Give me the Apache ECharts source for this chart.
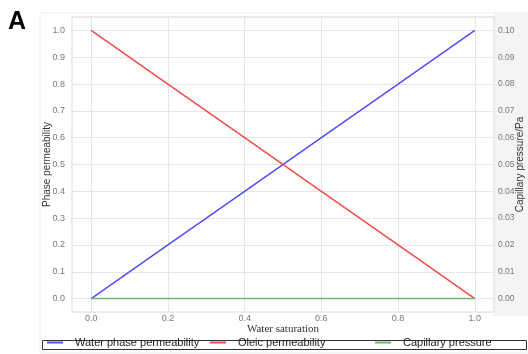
<!DOCTYPE html>
<html>
<head>
<meta charset="utf-8">
<script src="https://cdn.jsdelivr.net/npm/echarts@6/dist/echarts.min.js"></script>
<style>html,body{margin:0;padding:0;background:#fff}#c{width:528px;height:354px}</style>
</head>
<body>
<div id="c"></div>
<script>
const waterSaturation = [0.0, 0.2, 0.4, 0.6, 0.8, 1.0];
const waterPerm = [0.0, 0.2, 0.4, 0.6, 0.8, 1.0];
const oleicPerm = [1.0, 0.8, 0.6, 0.4, 0.2, 0.0];
const capPressure = [0, 0, 0, 0, 0, 0];
const seriesNames = ['Water phase permeability', 'Oleic permeability', 'Capillary pressure'];
const xTicks = [0, 0.2, 0.4, 0.6, 0.8, 1.0];
const leftTicks = [0, 0.1, 0.2, 0.3, 0.4, 0.5, 0.6, 0.7, 0.8, 0.9, 1.0];
const rightTicks = [0, 0.01, 0.02, 0.03, 0.04, 0.05, 0.06, 0.07, 0.08, 0.09, 0.10];

const chart = echarts.init(document.getElementById('c'), null, {renderer: 'canvas'});
const pair = (xs, ys) => xs.map((x, i) => [x, ys[i]]);
const labelColor = '#777';
const splitStyle = {lineStyle: {color: '#e6e6e6', width: 1}};
const legendLefts = [47, 210, 375];
const mkLegend = (name, i) => ({
  left: legendLefts[i], top: 337, itemWidth: 16, itemHeight: 2, icon: 'rect', padding: 0,
  textStyle: {fontSize: 11, color: '#222', fontFamily: '"Liberation Sans", Arial', padding: [0, 0, 0, 7]},
  data: [name]
});
chart.setOption({
  animation: false,
  backgroundColor: '#fff',
  graphic: [
    {type: 'rect', z: -10, shape: {x: 40, y: 13, width: 490, height: 340}, style: {fill: '#fff', stroke: '#ebebeb', lineWidth: 1}},
    {type: 'rect', z: -9, shape: {x: 494, y: 13, width: 36, height: 303}, style: {fill: '#f4f4f4'}},
    {type: 'rect', z: -8, shape: {x: 72, y: 17, width: 422, height: 295}, style: {fill: '#fff'}},
    {type: 'text', left: 8, top: 10, style: {text: 'A', font: 'bold 25px "Liberation Sans", Arial', fill: '#000'}},
    {type: 'rect', shape: {x: 42.5, y: 340.5, width: 484, height: 9}, style: {fill: 'none', stroke: '#333', lineWidth: 1}}
  ],
  grid: {left: 72, right: 34, top: 17, bottom: 42, outerBoundsMode: 'none', containLabel: false, show: true, borderColor: '#d8d8d8', borderWidth: 1, backgroundColor: 'transparent'},
  xAxis: {
    type: 'value', min: -0.05, max: 1.05,
    name: 'Water saturation', nameLocation: 'middle', nameGap: 12, nameMoveOverlap: false,
    nameTextStyle: {fontFamily: '"Liberation Serif", serif', fontSize: 11, color: '#333'},
    axisLine: {show: false}, axisTick: {show: false, customValues: xTicks},
    axisLabel: {customValues: xTicks, formatter: v => v.toFixed(1), color: labelColor, fontSize: 9, margin: 2, fontFamily: '"Liberation Sans", Arial'},
    splitLine: {show: true, ...splitStyle}
  },
  yAxis: [
    {
      type: 'value', min: -0.05, max: 1.05,
      name: 'Phase permeability', nameLocation: 'middle', nameGap: 20, nameRotate: 90, nameMoveOverlap: false,
      nameTextStyle: {fontFamily: '"Liberation Sans", Arial', fontSize: 10, color: '#333'},
      axisLine: {show: false}, axisTick: {show: false, customValues: leftTicks},
      axisLabel: {customValues: leftTicks, formatter: v => v.toFixed(1), color: labelColor, fontSize: 9, margin: 7, fontFamily: '"Liberation Sans", Arial'},
      splitLine: {show: true, ...splitStyle}
    },
    {
      type: 'value', min: -0.005, max: 0.105, position: 'right',
      name: 'Capillary pressure/Pa', nameLocation: 'middle', nameGap: 21, nameRotate: 90, nameMoveOverlap: false,
      nameTextStyle: {fontFamily: '"Liberation Sans", Arial', fontSize: 10, color: '#333'},
      axisLine: {show: false}, axisTick: {show: false, customValues: rightTicks},
      axisLabel: {customValues: rightTicks, formatter: v => v.toFixed(2), color: labelColor, fontSize: 8.5, margin: 4, fontFamily: '"Liberation Sans", Arial'},
      splitLine: {show: false}
    }
  ],
  legend: seriesNames.map(mkLegend),
  series: [
    {name: seriesNames[0], type: 'line', data: pair(waterSaturation, waterPerm), showSymbol: false, lineStyle: {color: '#4f4ff5', width: 1.5}, itemStyle: {color: '#4f4ff5'}},
    {name: seriesNames[1], type: 'line', data: pair(waterSaturation, oleicPerm), showSymbol: false, lineStyle: {color: '#f24a4a', width: 1.5}, itemStyle: {color: '#f24a4a'}},
    {name: seriesNames[2], type: 'line', yAxisIndex: 1, data: pair(waterSaturation, capPressure), showSymbol: false, lineStyle: {color: '#6db86d', width: 1.5}, itemStyle: {color: '#6db86d'}}
  ]
});
</script>
</body>
</html>
